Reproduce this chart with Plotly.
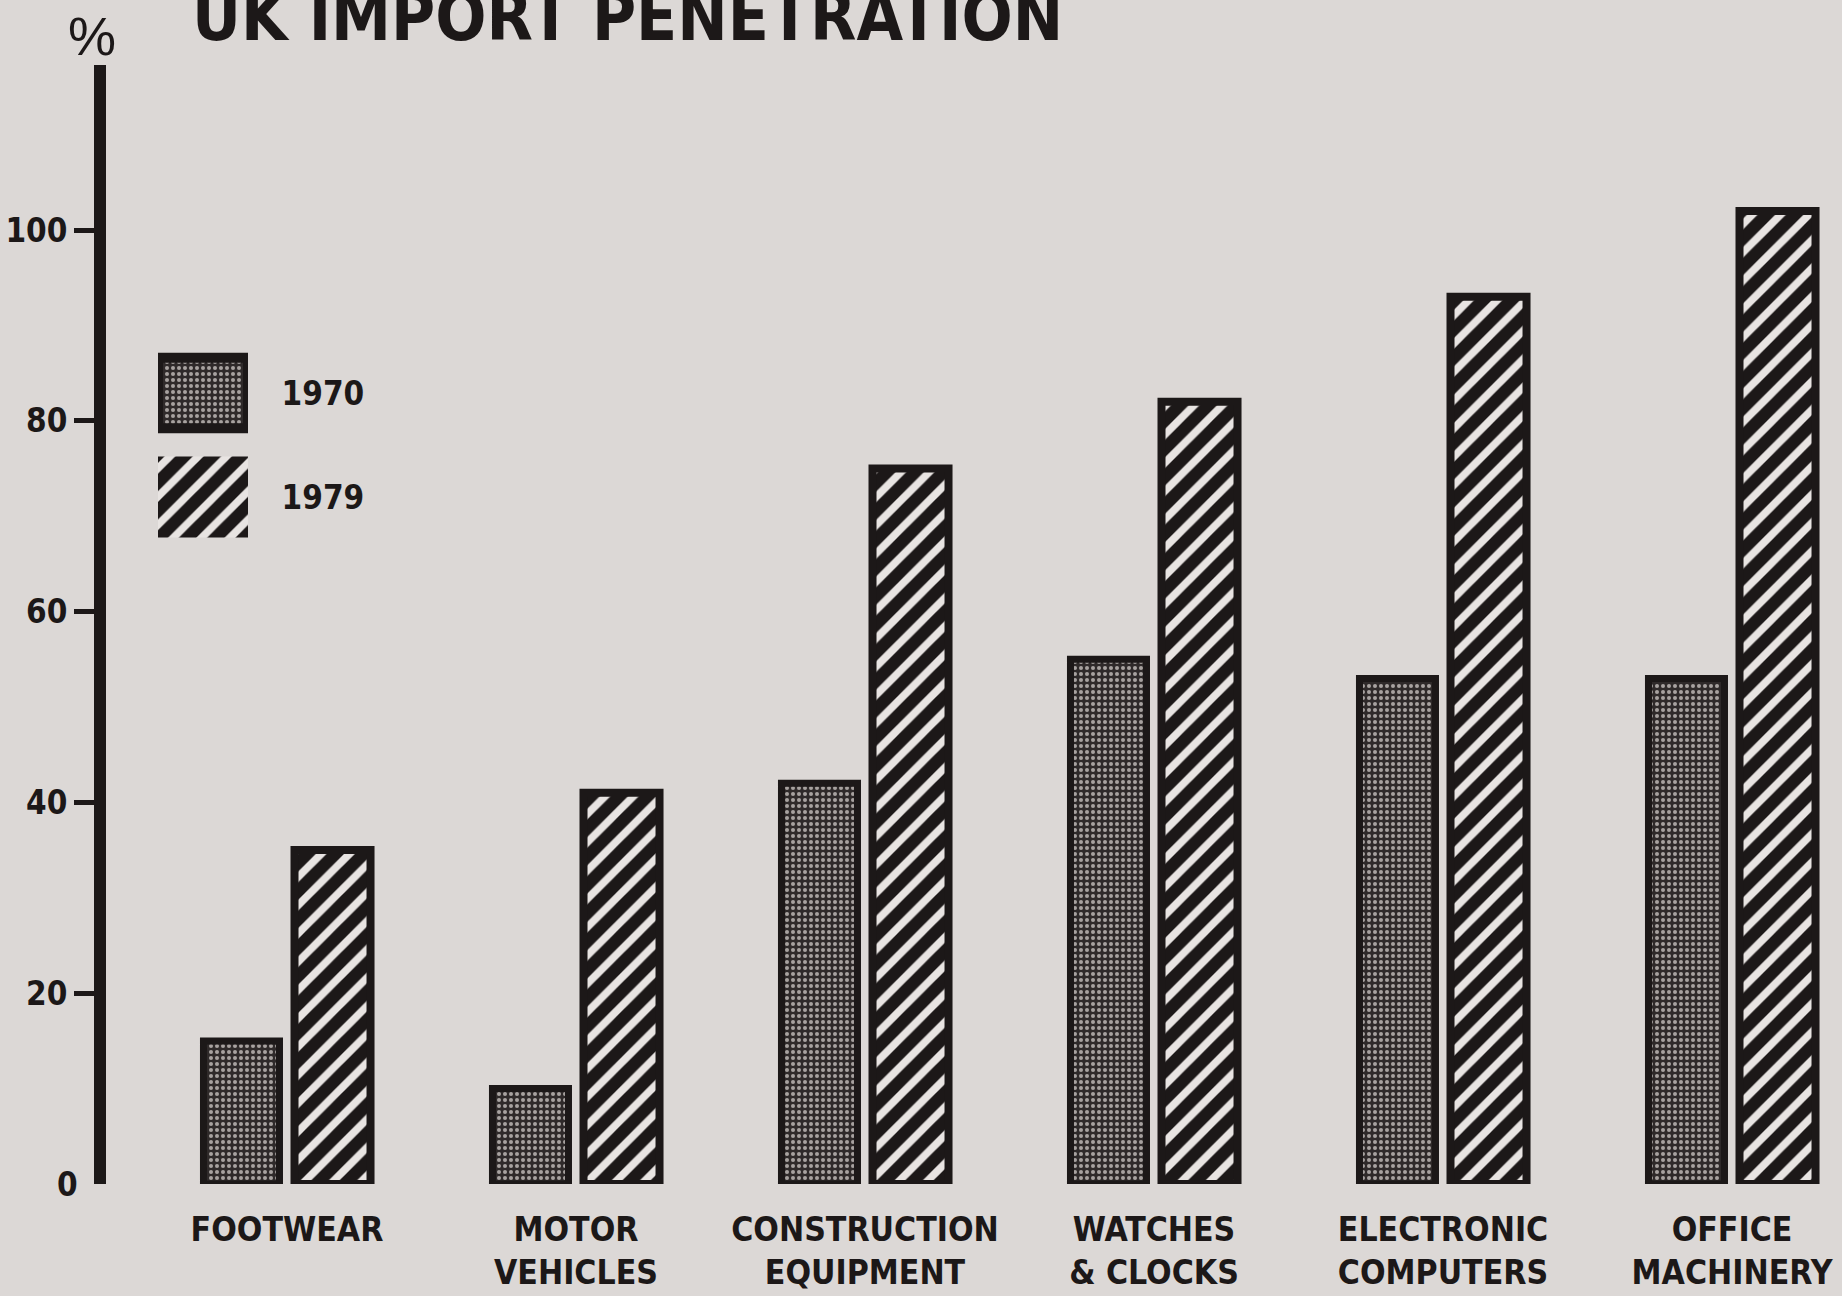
import plotly.graph_objects as go

# ---- data -------------------------------------------------------------
categories = [
    "FOOTWEAR",
    "MOTOR<br>VEHICLES",
    "CONSTRUCTION<br>EQUIPMENT",
    "WATCHES<br>& CLOCKS",
    "ELECTRONIC<br>COMPUTERS",
    "OFFICE<br>MACHINERY",
]
share_1970 = [15, 10, 42, 55, 53, 53]
share_1979 = [35, 41, 75, 82, 93, 102]
years = ["1970", "1979"]
y_ticks = [20, 40, 60, 80, 100]

# ---- page geometry and styling -----------------------------------------
W, H = 1842, 1296
ML, MR, MT, MB = 106, 0, 65, 112
PLOT_W = W - ML - MR
PLOT_H = H - MT - MB

PAPER = "#dcd8d6"
INK = "#1c1818"
HATCH_BG = "#e8e4e2"
STIPPLE_BG = "#2f2a2a"
STIPPLE_FG = "#a8a2a0"

BOLD = "Liberation Sans Narrow, DejaVu Sans Condensed, Arial Narrow, sans-serif"
PLAIN = "Liberation Sans, Arial, sans-serif"


def px_x(p):
    """Page pixel column -> paper x."""
    return (p - ML) / PLOT_W


def px_y(p):
    """Page pixel row -> paper y."""
    return (H - MB - p) / PLOT_H


# category centres sit 289 px apart, the first one at x=287 px
STEP, FIRST = 289.0, 287.0
x_range = [(ML - FIRST) / STEP, (W - MR - FIRST) / STEP]

stipple = dict(shape=".", fgcolor=STIPPLE_FG, bgcolor=STIPPLE_BG,
               fgopacity=1, size=6, solidity=0.36)
hatch = dict(shape="/", fgcolor=INK, bgcolor=HATCH_BG,
             fgopacity=1, size=20, solidity=0.62)

style_1970 = dict(color=STIPPLE_BG, line=dict(color=INK, width=7), pattern=stipple)
style_1979 = dict(color=HATCH_BG, line=dict(color=INK, width=8), pattern=hatch)

fig = go.Figure()

fig.add_bar(x=categories, y=share_1970, name=years[0], hoverinfo="skip",
            marker=style_1970)
fig.add_bar(x=categories, y=share_1979, name=years[1], hoverinfo="skip",
            marker=style_1979)

# key: one horizontal swatch per year on a small axis pair of its own
fig.add_bar(
    x=[1], y=[years[0]], base=0, orientation="h", xaxis="x2", yaxis="y2",
    hoverinfo="skip", width=0.68, offset=-0.34,
    marker=dict(color=STIPPLE_BG, line=dict(color=INK, width=10), pattern=stipple),
)
fig.add_bar(
    x=[1], y=[years[1]], base=0, orientation="h", xaxis="x2", yaxis="y2",
    hoverinfo="skip", width=0.78, offset=-0.39,
    marker=dict(color=HATCH_BG, line=dict(color=INK, width=0), pattern=hatch),
)

fig.update_layout(
    width=W, height=H,
    margin=dict(l=ML, r=MR, t=MT, b=MB, pad=0),
    paper_bgcolor=PAPER, plot_bgcolor=PAPER,
    showlegend=False,
    barmode="group", bargap=0.37, bargroupgap=0.165,
    xaxis=dict(
        type="category", range=x_range, showline=False, showgrid=False,
        zeroline=False, ticks="", ticklabelstandoff=22,
        tickfont=dict(family=BOLD, size=33.5, color=INK, weight="bold"),
    ),
    yaxis=dict(
        range=[0, 117.3], tickvals=y_ticks, showgrid=False, zeroline=False,
        showline=True, linewidth=12, linecolor=INK,
        ticks="outside", ticklen=20, tickwidth=5, tickcolor=INK,
        tickfont=dict(family=BOLD, size=33, color=INK, weight="bold"),
    ),
    xaxis2=dict(domain=[px_x(158), px_x(248)], range=[0, 1], anchor="y2", visible=False),
    yaxis2=dict(
        domain=[px_y(549), px_y(341)], anchor="x2", side="right",
        type="category", categoryorder="array", categoryarray=[years[1], years[0]],
        range=[-0.5, 1.5], showline=False, showgrid=False, zeroline=False,
        ticks="outside", ticklen=26, tickcolor="rgba(0,0,0,0)",
        tickfont=dict(family=BOLD, size=33, color=INK, weight="bold"),
    ),
    annotations=[
        dict(text="UK IMPORT PENETRATION", xref="paper", yref="paper",
             x=px_x(190), y=px_y(58), xanchor="left", yanchor="bottom",
             showarrow=False,
             font=dict(family=BOLD, size=67, color=INK, weight="bold")),
        dict(text="%", xref="paper", yref="paper",
             x=px_x(92), y=px_y(36), xanchor="center", yanchor="middle",
             showarrow=False, font=dict(family=PLAIN, size=54, color=INK)),
        dict(text="0", xref="paper", yref="y",
             x=px_x(80), y=0, xanchor="right", yanchor="middle",
             showarrow=False,
             font=dict(family=BOLD, size=33, color=INK, weight="bold")),
    ],
)

fig.write_html("out.html")
